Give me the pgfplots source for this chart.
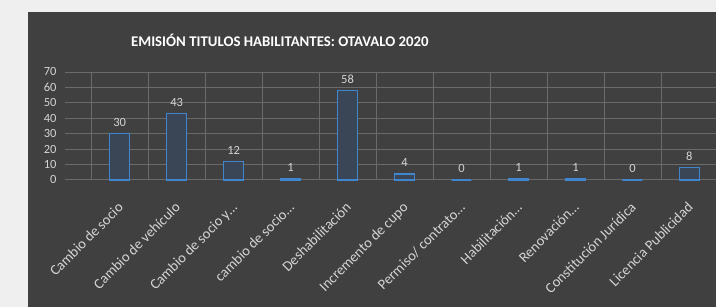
\documentclass[border=0pt]{standalone}
\usepackage{fontspec}
\setmainfont{Carlito}
\usepackage{pgfplots}
\pgfplotsset{compat=1.18}
\definecolor{bgl}{HTML}{EFEFEF}
\definecolor{panel}{HTML}{404040}
\definecolor{gridc}{HTML}{6A6A6A}
\definecolor{txt}{HTML}{D4D4D4}
\definecolor{barb}{HTML}{3F86CF}
\definecolor{barf}{HTML}{3A4656}
\begin{document}
\begin{tikzpicture}[x=1pt,y=1pt]
\fill[bgl] (0,0) rectangle (716,307);
\fill[panel] (28,0) rectangle (716,295);
\node[text=white,font=\bfseries\fontsize{14.8}{17}\selectfont] at (280,267) {EMISIÓN TITULOS HABILITANTES: OTAVALO 2020};
\begin{axis}[
  at={(65pt,127pt)}, anchor=south west,
  scale only axis, width=651pt, height=108pt,
  xmin=-0.96, xmax=10.46, ymin=0, ymax=70,
  axis line style={draw=none},
  tick style={draw=none},
  ytick={0,10,...,70},
  ymajorgrids, xminorgrids,
  minor xtick={-0.5,0.5,...,9.5},
  grid style={gridc, line width=0.8pt},
  minor grid style={gridc, line width=0.8pt},
  xtick={0,...,10},
  xticklabels={Cambio de socio, Cambio de vehículo, Cambio de socio y…, cambio de socio…, Deshabilitación, Incremento de cupo, Permiso/ contrato…, Habilitación…, Renovación…, Constitución Jurídica, Licencia Publicidad},
  xticklabel style={rotate=45, anchor=north east, inner sep=0pt, text=txt, font=\fontsize{14.5}{16}\selectfont, yshift=-10pt, xshift=-14pt},
  yticklabel style={text=txt, font=\fontsize{12.5}{14}\selectfont, xshift=-5pt},
  /pgf/number format/assume math mode=true,
  ybar, bar width=20pt,
  nodes near coords,
  every node near coord/.append style={text=txt, font=\fontsize{12.5}{14}\selectfont, yshift=3pt},
  clip=false,
]
\addplot[draw=barb, fill=barf, line width=1.6pt] coordinates {
(0,30) (1,43) (2,12) (3,1) (4,58) (5,4) (6,0) (7,1) (8,1) (9,0) (10,8)};
\end{axis}
\end{tikzpicture}
\end{document}
